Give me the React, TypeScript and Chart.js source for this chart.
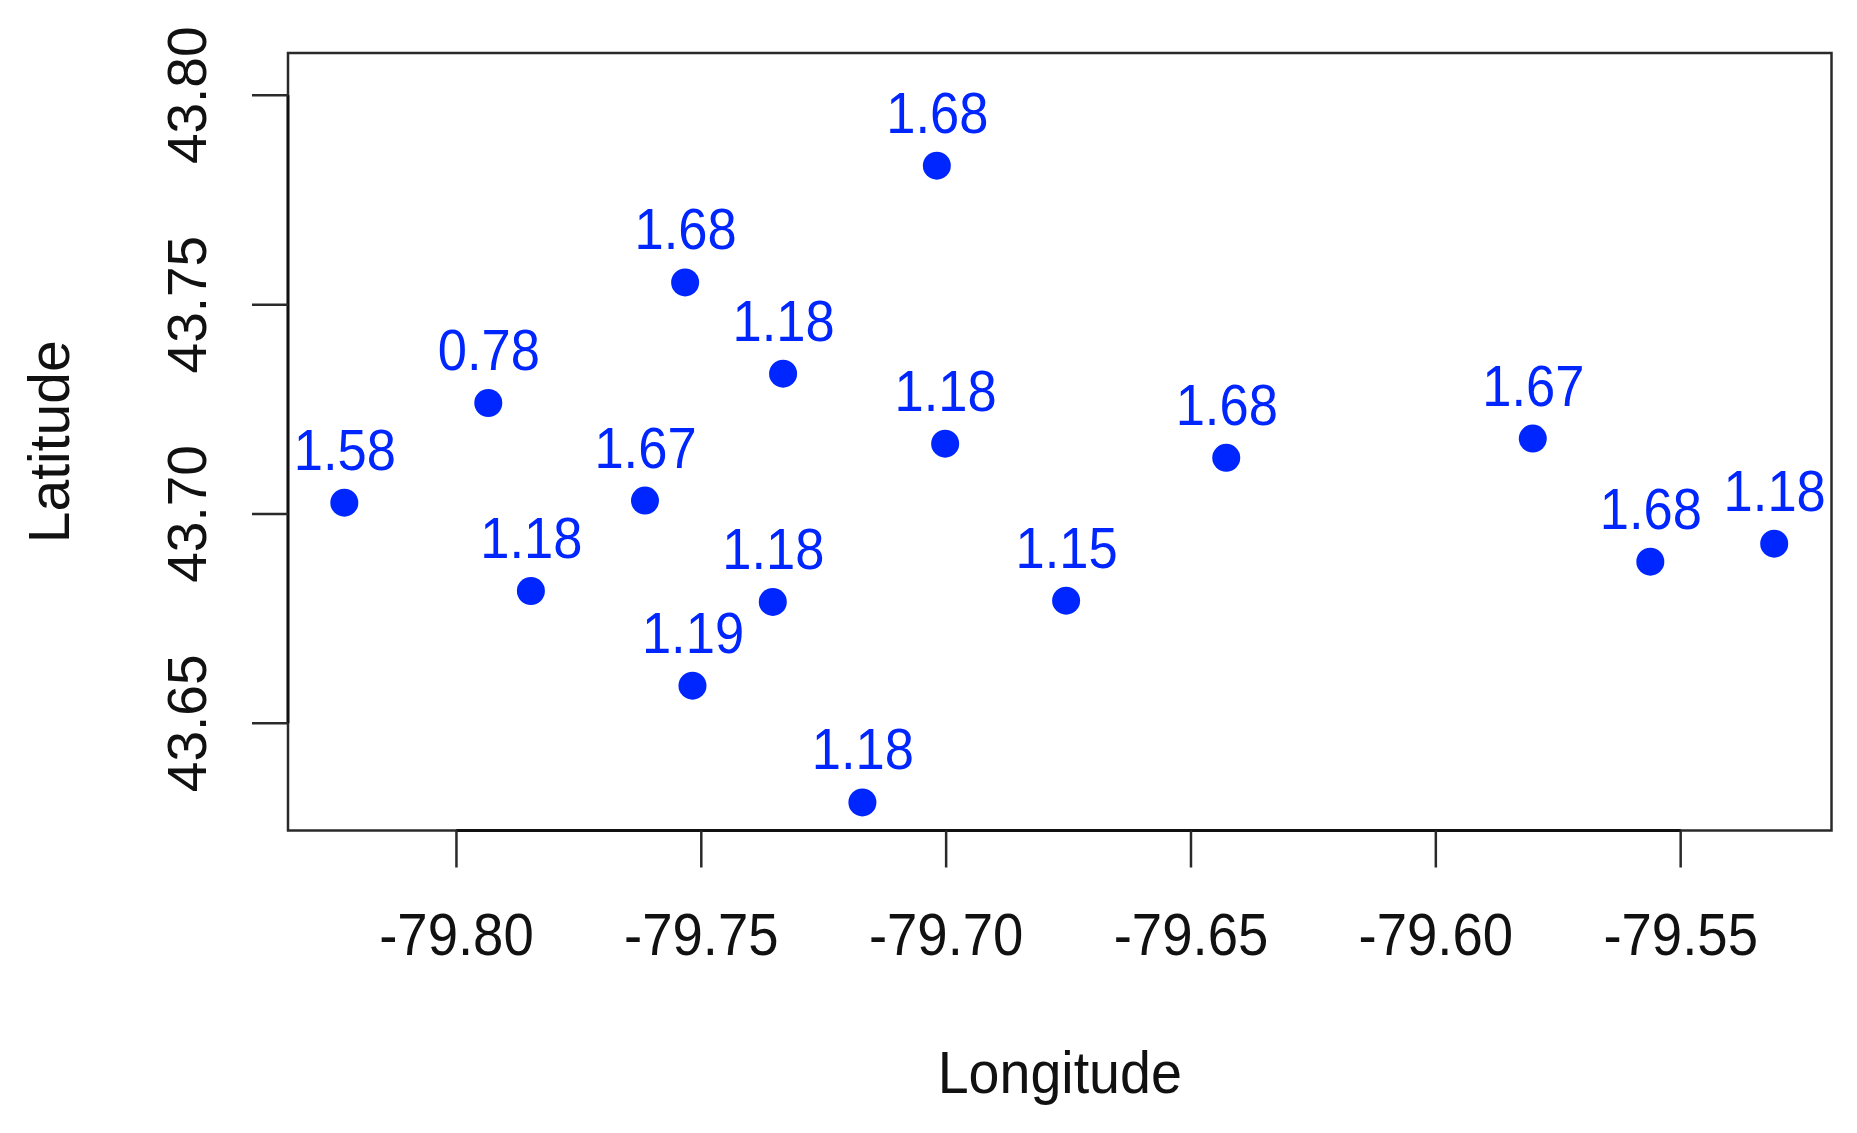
import React, { useEffect, useRef } from "react";
import { Chart, registerables } from "chart.js";

Chart.register(...registerables);

// ---- data ----
const longitudes = [
  -79.8229, -79.7935, -79.7848, -79.7533, -79.7615, -79.7518, -79.7333, -79.7354,
  -79.7171, -79.7019, -79.7002, -79.6755, -79.6428, -79.5802, -79.5562, -79.5309,
];
const latitudes = [
  43.7027, 43.7265, 43.6816, 43.7553, 43.7032, 43.659, 43.7335, 43.679,
  43.6311, 43.7832, 43.7168, 43.6793, 43.7134, 43.718, 43.6886, 43.6929,
];
const pointLabels = [
  "1.58", "0.78", "1.18", "1.68", "1.67", "1.19", "1.18", "1.18",
  "1.18", "1.68", "1.18", "1.15", "1.68", "1.67", "1.68", "1.18",
];
const xTickValues = [-79.8, -79.75, -79.7, -79.65, -79.6, -79.55];
const yTickValues = [43.65, 43.7, 43.75, 43.8];
const xTickLabels = ["-79.80", "-79.75", "-79.70", "-79.65", "-79.60", "-79.55"];
const yTickLabels = ["43.65", "43.70", "43.75", "43.80"];
const xTitle = "Longitude";
const yTitle = "Latitude";

const X_MIN = -79.8344;
const X_MAX = -79.5192;
const Y_MIN = 43.6244;
const Y_MAX = 43.8101;

const BLUE = "rgb(0, 38, 255)";
const FONT = '"Liberation Sans", Arial, Helvetica, sans-serif';

function drawText(
  ctx: CanvasRenderingContext2D,
  text: string,
  x: number,
  y: number,
  size: number,
  sy: number,
  color: string,
  rotate = 0
) {
  ctx.save();
  ctx.translate(x, y);
  if (rotate) ctx.rotate(rotate);
  ctx.scale(1, sy);
  ctx.font = `${size}px ${FONT}`;
  ctx.fillStyle = color;
  ctx.textAlign = "center";
  ctx.textBaseline = "alphabetic";
  ctx.fillText(text, 0, 0);
  ctx.restore();
}

const rPlotPlugin = {
  id: "rPlot",
  afterDatasetsDraw(chart: any) {
    const ctx: CanvasRenderingContext2D = chart.ctx;
    const xs = chart.scales.x;
    const ys = chart.scales.y;
    const area = chart.chartArea;

    // point labels
    const meta = chart.getDatasetMeta(0);
    meta.data.forEach((el: any, i: number) => {
      drawText(ctx, pointLabels[i], el.x + 0.5, el.y - 33, 52.5, 1.09, BLUE);
    });

    // box
    ctx.save();
    ctx.strokeStyle = "#2a2a2a";
    ctx.lineWidth = 2.5;
    ctx.strokeRect(area.left, area.top, area.right - area.left, area.bottom - area.top);

    // axis lines (first to last tick) + ticks
    ctx.strokeStyle = "#111";
    ctx.lineWidth = 2.8;
    const x0 = xs.getPixelForValue(xTickValues[0]);
    const x1 = xs.getPixelForValue(xTickValues[xTickValues.length - 1]);
    ctx.beginPath();
    ctx.moveTo(x0, area.bottom);
    ctx.lineTo(x1, area.bottom);
    const y0 = ys.getPixelForValue(yTickValues[0]);
    const y1 = ys.getPixelForValue(yTickValues[yTickValues.length - 1]);
    ctx.moveTo(area.left, y0);
    ctx.lineTo(area.left, y1);
    ctx.stroke();

    ctx.strokeStyle = "#2a2a2a";
    ctx.lineWidth = 2.5;
    ctx.beginPath();
    xTickValues.forEach((v) => {
      const px = xs.getPixelForValue(v);
      ctx.moveTo(px, area.bottom);
      ctx.lineTo(px, area.bottom + 37);
    });
    yTickValues.forEach((v) => {
      const py = ys.getPixelForValue(v);
      ctx.moveTo(area.left, py);
      ctx.lineTo(area.left - 36, py);
    });
    ctx.stroke();
    ctx.restore();

    // tick labels
    xTickValues.forEach((v, i) => {
      const px = xs.getPixelForValue(v);
      drawText(ctx, xTickLabels[i], px, 955, 54.5, 1.08, "#111");
    });
    yTickValues.forEach((v, i) => {
      const py = ys.getPixelForValue(v);
      drawText(ctx, yTickLabels[i], 205.5, py, 55, 1, "#111", -Math.PI / 2);
    });

    // axis titles
    const cx = (area.left + area.right) / 2;
    const cy = (area.top + area.bottom) / 2;
    drawText(ctx, xTitle, cx, 1093, 55.6, 1.08, "#111");
    drawText(ctx, yTitle, 69, cy, 57, 1, "#111", -Math.PI / 2);
  },
};

export default function App() {
  const canvasRef = useRef<HTMLCanvasElement | null>(null);

  useEffect(() => {
    const canvas = canvasRef.current;
    if (!canvas) return;
    const points = longitudes.map((lon, i) => ({ x: lon, y: latitudes[i] }));
    const chart = new Chart(canvas, {
      type: "scatter",
      data: {
        datasets: [
          {
            data: points,
            pointRadius: 14,
            pointHoverRadius: 14,
            backgroundColor: BLUE,
            borderWidth: 0,
            clip: false as any,
          },
        ],
      },
      options: {
        responsive: false,
        animation: false,
        devicePixelRatio: 1,
        layout: {
          padding: { left: 288, top: 53, right: 25.5, bottom: 302.5 },
        },
        plugins: {
          legend: { display: false },
          tooltip: { enabled: false },
        },
        events: [],
        scales: {
          x: { type: "linear", min: X_MIN, max: X_MAX, display: false },
          y: { type: "linear", min: Y_MIN, max: Y_MAX, display: false },
        },
      },
      plugins: [rPlotPlugin],
    });
    return () => chart.destroy();
  }, []);

  return (
    <div
      style={{
        position: "fixed",
        left: 0,
        top: 0,
        width: 1857,
        height: 1133,
        background: "#fff",
      }}
    >
      <canvas
        ref={canvasRef}
        width={1857}
        height={1133}
        style={{ width: 1857, height: 1133, display: "block" }}
      />
    </div>
  );
}
